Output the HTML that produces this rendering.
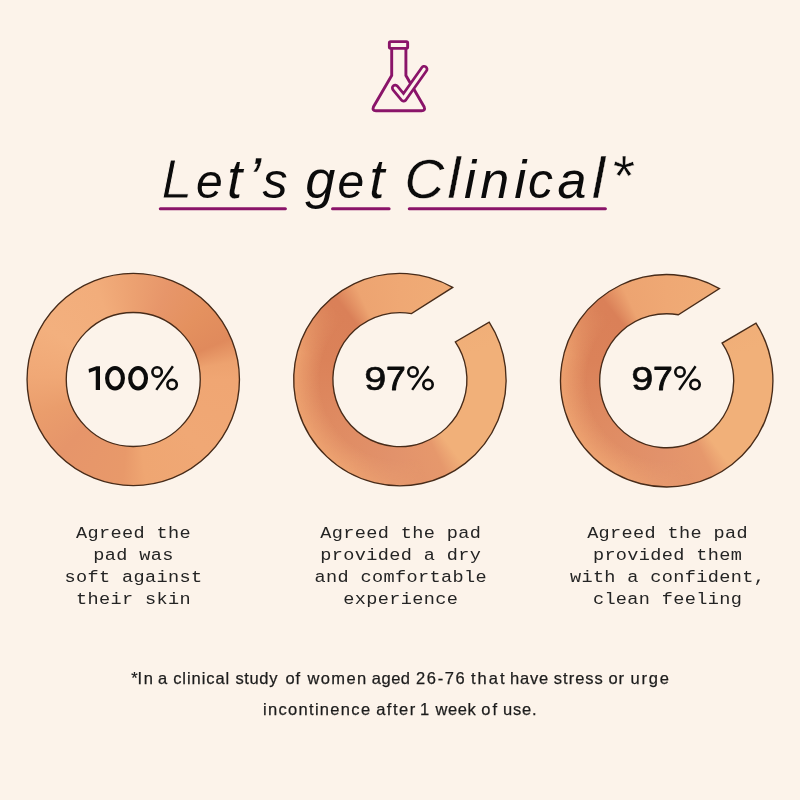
<!DOCTYPE html>
<html>
<head>
<meta charset="utf-8">
<style>
html,body{margin:0;padding:0;}
body{width:800px;height:800px;background:#fcf3ea;position:relative;overflow:hidden;font-family:"Liberation Sans",sans-serif;}
.ring{position:absolute;width:216px;height:216px;}
#r1{left:25px;top:271px;background:conic-gradient(from 0deg at 108.25px 108.50px,#eca171 0deg,#e7966a 20deg,#e4915f 45deg,#e08a5c 67deg,#eda26f 80deg,#f0a673 90deg,#f0a875 135deg,#efa672 173deg,#e8996a 186deg,#e6956a 225deg,#ea9d6c 250deg,#f0a876 272deg,#f3b07e 300deg,#f2ad7b 338deg,#eca171 360deg);clip-path:path(evenodd,"M108.25 2.30 A106.2 106.2 0 1 1 108.24 2.30 Z M108.25 41.50 A67.0 67.0 0 1 1 108.24 41.50 Z");}
#r2{left:291px;top:271px;background:conic-gradient(from 0deg at 108.90px 108.60px,#efa874 0deg,#f0ad77 40deg,#f1b079 70deg,#f1b079 143deg,#e6986c 154deg,#e2926b 185deg,#df8b62 235deg,#db8259 285deg,#da8058 322deg,#eda471 335deg,#efa874 360deg);clip-path:path("M164.31 70.94 A67.0 67.0 0 1 1 120.53 42.62 L161.68 16.44 A106.2 106.2 0 1 0 198.17 51.07 Z");}
#r2::after{content:"";position:absolute;left:0;top:0;width:216px;height:216px;background:radial-gradient(circle at 108.90px 108.60px,rgba(240,168,116,0) 80px,rgba(240,168,116,0.75) 104px);-webkit-mask-image:conic-gradient(from 0deg at 108.90px 108.60px,transparent 0deg,transparent 165deg,#000 210deg,#000 285deg,transparent 318deg,transparent 360deg);mask-image:conic-gradient(from 0deg at 108.90px 108.60px,transparent 0deg,transparent 165deg,#000 210deg,#000 285deg,transparent 318deg,transparent 360deg);}
#r3{left:558px;top:272px;background:conic-gradient(from 0deg at 108.70px 108.75px,#efa874 0deg,#f0ad77 40deg,#f1b079 70deg,#f1b079 143deg,#e6986c 154deg,#e2926b 185deg,#df8b62 235deg,#db8259 285deg,#da8058 322deg,#eda471 335deg,#efa874 360deg);clip-path:path("M164.11 71.09 A67.0 67.0 0 1 1 120.33 42.77 L161.48 16.59 A106.2 106.2 0 1 0 197.97 51.22 Z");}
#r3::after{content:"";position:absolute;left:0;top:0;width:216px;height:216px;background:radial-gradient(circle at 108.70px 108.75px,rgba(240,168,116,0) 80px,rgba(240,168,116,0.75) 104px);-webkit-mask-image:conic-gradient(from 0deg at 108.70px 108.75px,transparent 0deg,transparent 165deg,#000 210deg,#000 285deg,transparent 318deg,transparent 360deg);mask-image:conic-gradient(from 0deg at 108.70px 108.75px,transparent 0deg,transparent 165deg,#000 210deg,#000 285deg,transparent 318deg,transparent 360deg);}
svg{position:absolute;left:0;top:0;}
</style>
</head>
<body>
<div class="ring" id="r1"></div>
<div class="ring r23" id="r2"></div>
<div class="ring r23" id="r3"></div>
<svg width="800" height="800" viewBox="0 0 800 800" style="will-change:transform">
  <!-- ring outlines -->
  <g fill="none" stroke="#472b19" stroke-width="1.35" stroke-linejoin="miter">
    <circle cx="133.25" cy="379.5" r="106.2"/>
    <circle cx="133.25" cy="379.5" r="67.0"/>
    <path d="M455.31 341.94 A67.0 67.0 0 1 1 411.53 313.62 L452.68 287.44 A106.2 106.2 0 1 0 489.17 322.07 Z"/>
    <path d="M722.11 343.09 A67.0 67.0 0 1 1 678.33 314.77 L719.48 288.59 A106.2 106.2 0 1 0 755.97 323.22 Z"/>
  </g>

  <!-- flask icon -->
  <g fill="none" stroke="#8a1469" stroke-width="2.9" stroke-linejoin="round" stroke-linecap="round">
    <rect x="389.35" y="41.65" width="18.3" height="6.7" rx="1.3"/>
    <path d="M391.7 48.8 V75.5 L373.5 106.7 Q371.9 110.8 376 110.8 H421.6 Q425.7 110.8 424.1 106.7 L405.9 75.5 V48.8"/>
  </g>
  <polyline points="395.2,88.0 403.7,98.2 424.2,69.2" fill="none" stroke="#8a1469" stroke-width="8.4" stroke-linejoin="round" stroke-linecap="round"/>
  <polyline points="395.2,88.0 403.7,98.2 424.2,69.2" fill="none" stroke="#fcf3ea" stroke-width="3.0" stroke-linejoin="round" stroke-linecap="round"/>

  <!-- title -->
  <g font-family="Liberation Sans, sans-serif" font-style="italic" fill="#0b0b0b" stroke="#fcf3ea" stroke-width="0.8" id="title">
    <text x="161.2" y="197.5" font-size="56" stroke-width="1.0">L</text>
    <text x="195.9" y="197.5" font-size="48" stroke="none">e</text>
    <text x="227.1" y="197.5" font-size="55" stroke-width="0.1">t</text>
    <text x="247.3" y="199.5" font-size="62" stroke-width="0.3">’</text>
    <text x="262.4" y="197.5" font-size="50" stroke="none">s</text>
    <text x="305.2" y="197.5" font-size="54" stroke="none">g</text>
    <text x="337.4" y="197.5" font-size="48" stroke="none">e</text>
    <text x="369.2" y="197.5" font-size="55" stroke-width="0.1">t</text>
    <text x="404.6" y="197.5" font-size="55" stroke-width="0.3">C</text>
    <text x="447.5" y="197.5" font-size="58" stroke-width="0.3">l</text>
    <text x="463.9" y="197.5" font-size="54" stroke="none">i</text>
    <text x="480.2" y="197.5" font-size="52" stroke="none">n</text>
    <text x="514.2" y="197.5" font-size="54" stroke="none">i</text>
    <text x="528.1" y="197.5" font-size="50" stroke="none">c</text>
    <text x="557.5" y="197.5" font-size="52" stroke="none">a</text>
    <text x="592.1" y="197.5" font-size="58" stroke-width="0.3">l</text>
    <text x="610.6" y="196.3" font-size="57" stroke-width="0.5">*</text>
  </g>
  <g stroke="#8a1469" stroke-width="3" stroke-linecap="round">
    <line x1="160.3" y1="208.75" x2="285.4" y2="208.75"/>
    <line x1="332.5" y1="208.75" x2="389.1" y2="208.75"/>
    <line x1="409.3" y1="208.75" x2="605.4" y2="208.75"/>
  </g>

  <!-- percentages -->
  <g font-family="Liberation Sans, sans-serif" font-size="34" fill="#0b0b0b" text-anchor="middle" stroke="#0b0b0b" stroke-linejoin="round">
    <g id="p1" stroke="none">
      <path d="M100 366.25 L96.5 366.25 L88.6 369.1 L89 372.8 L95.75 370.3 L95.75 390 L100 390 Z"/>
      <g fill="none" stroke="#0b0b0b">
        <ellipse cx="115" cy="378.25" rx="7.9" ry="10.2" stroke-width="4.1"/>
        <ellipse cx="138.1" cy="378.25" rx="7.9" ry="10.2" stroke-width="4.1"/>
        <circle cx="157.1" cy="371.9" r="4.7" stroke-width="2.6"/>
        <circle cx="172.1" cy="384.6" r="4.7" stroke-width="2.6"/>
        <line x1="156.3" y1="389.9" x2="172.9" y2="366.3" stroke-width="2.4"/>
      </g>
    </g>
    <g id="p2" transform="translate(0 0)">
      <text transform="translate(364.3 389.76) scale(1.183 1)" font-size="33.5" text-anchor="start" stroke-width="0.6">9</text>
      <text transform="translate(385.95 389.76) scale(1.06 1)" font-size="33.5" text-anchor="start" stroke-width="0.9">7</text>
      <g fill="none" stroke="#0b0b0b">
        <circle cx="413" cy="371.9" r="4.7" stroke-width="2.6"/>
        <circle cx="428" cy="384.6" r="4.7" stroke-width="2.6"/>
        <line x1="412.2" y1="389.9" x2="428.6" y2="366.3" stroke-width="2.4"/>
      </g>
    </g>
    <g id="p3" transform="translate(267 0)">
      <text transform="translate(364.3 389.76) scale(1.183 1)" font-size="33.5" text-anchor="start" stroke-width="0.6">9</text>
      <text transform="translate(385.95 389.76) scale(1.06 1)" font-size="33.5" text-anchor="start" stroke-width="0.9">7</text>
      <g fill="none" stroke="#0b0b0b">
        <circle cx="413" cy="371.9" r="4.7" stroke-width="2.6"/>
        <circle cx="428" cy="384.6" r="4.7" stroke-width="2.6"/>
        <line x1="412.2" y1="389.9" x2="428.6" y2="366.3" stroke-width="2.4"/>
      </g>
    </g>
  </g>

  <!-- captions -->
  <g font-family="Liberation Mono, monospace" font-size="16.6" letter-spacing="0.31" fill="#242424" text-anchor="middle">
    <g transform="translate(133.5 0) scale(1.12 1)">
      <text x="0" y="537.7">Agreed the</text>
      <text x="0" y="559.9">pad was</text>
      <text x="0" y="582.1">soft against</text>
      <text x="0" y="604.3">their skin</text>
    </g>
    <g transform="translate(400.8 0) scale(1.12 1)">
      <text x="0" y="537.7">Agreed the pad</text>
      <text x="0" y="559.9">provided a dry</text>
      <text x="0" y="582.1">and comfortable</text>
      <text x="0" y="604.3">experience</text>
    </g>
    <g transform="translate(667.6 0) scale(1.12 1)">
      <text x="0" y="537.7">Agreed the pad</text>
      <text x="0" y="559.9">provided them</text>
      <text x="0" y="582.1">with a confident,</text>
      <text x="0" y="604.3">clean feeling</text>
    </g>
  </g>

  <!-- footnote -->
  <g font-family="Liberation Sans, sans-serif" font-size="16.5" fill="#1c1c1c" stroke="#1c1c1c" stroke-width="0.25" id="foot">
    <text x="131.2" y="684.3" letter-spacing="1.00">*</text>
    <text x="137.6" y="684.3" letter-spacing="1.50">In</text>
    <text x="158.0" y="684.3" letter-spacing="1.00">a</text>
    <text x="173.2" y="684.3" letter-spacing="0.93">clinical</text>
    <text x="235.5" y="684.3" letter-spacing="0.61">study</text>
    <text x="285.6" y="684.3" letter-spacing="0.70">of</text>
    <text x="307.5" y="684.3" letter-spacing="1.38">women</text>
    <text x="371.8" y="684.3" letter-spacing="0.50">aged</text>
    <text x="416.0" y="684.3" letter-spacing="1.64">26-76</text>
    <text x="470.9" y="684.3" letter-spacing="2.07">that</text>
    <text x="510.0" y="684.3" letter-spacing="0.82">have</text>
    <text x="553.8" y="684.3" letter-spacing="1.00">stress</text>
    <text x="608.6" y="684.3" letter-spacing="0.75">or</text>
    <text x="630.6" y="684.3" letter-spacing="1.77">urge</text>
    <text x="263.0" y="715.3" letter-spacing="1.31">incontinence</text>
    <text x="376.2" y="715.3" letter-spacing="1.50">after</text>
    <text x="420.0" y="715.3" letter-spacing="1.00">1</text>
    <text x="435.4" y="715.3" letter-spacing="0.58">week</text>
    <text x="481.2" y="715.3" letter-spacing="2.05">of</text>
    <text x="503.0" y="715.3" letter-spacing="0.83">use.</text>
  </g>
</svg>
</body>
</html>
